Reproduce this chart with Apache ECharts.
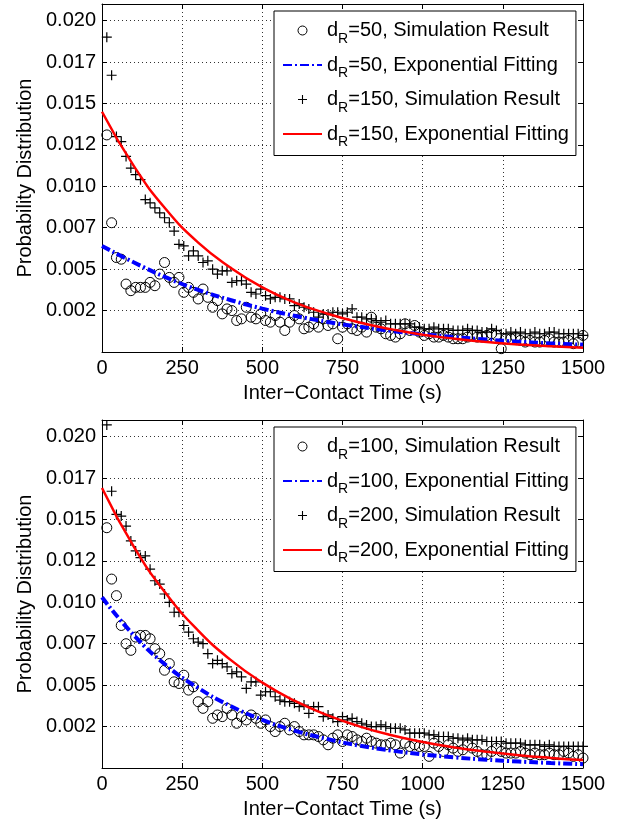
<!DOCTYPE html>
<html><head><meta charset="utf-8">
<script src="https://cdn.jsdelivr.net/npm/echarts/dist/echarts.min.js"></script>
<style>html,body{margin:0;padding:0;background:#fff}#c{width:619px;height:824px}</style>
</head><body><div id="c"></div><script>
// ---------- data ----------
const times = [15,30,45,60,75,90,105,120,135,150,165,180,195,210,225,240,255,270,285,300,315,330,345,360,375,390,405,420,435,450,465,480,495,510,525,540,555,570,585,600,615,630,645,660,675,690,705,720,735,750,765,780,795,810,825,840,855,870,885,900,915,930,945,960,975,990,1005,1020,1035,1050,1065,1080,1095,1110,1125,1140,1155,1170,1185,1200,1215,1230,1245,1260,1275,1290,1305,1320,1335,1350,1365,1380,1395,1410,1425,1440,1455,1470,1485,1500];
const fitTimes = [0,100,200,300,400,500,600,700,800,900,1000,1100,1200,1300,1400,1500];
const xTicks = [0,250,500,750,1000,1250,1500];

const sim50 = [0.0131,0.0078,0.0057,0.0056,0.0041,0.0037,0.0039,0.0039,0.0039,0.0042,
0.0040,0.0047,0.0054,0.0045,0.0042,0.0045,0.0036,0.0039,0.0036,0.0032,
0.0038,0.0033,0.0027,0.0031,0.0023,0.0026,0.0025,0.0019,0.0020,0.0027,
0.0021,0.0020,0.0023,0.0019,0.0018,0.0022,0.0018,0.0013,0.0018,0.0022,
0.0020,0.0014,0.0015,0.0017,0.0015,0.0020,0.0016,0.0017,0.0008,0.0015,
0.0017,0.0014,0.0013,0.0015,0.0012,0.0021,0.0015,0.0014,0.0011,0.0010,
0.0009,0.0011,0.0017,0.0013,0.0016,0.0012,0.0010,0.0011,0.0009,0.0009,
0.0010,0.0009,0.0008,0.0008,0.0008,0.0009,0.0010,0.0009,0.0009,0.0010,
0.0011,0.0010,0.0002,0.0008,0.0008,0.0009,0.0007,0.0006,0.0007,0.0006,
0.0006,0.0007,0.0008,0.0006,0.0006,0.0006,0.0007,0.0005,0.0006,0.0010];
const sim150 = [0.0190,0.0167,0.0130,0.0127,0.0118,0.0111,0.0107,0.0104,0.0092,0.0090,
0.0087,0.0084,0.0081,0.0078,0.0073,0.0065,0.0064,0.0058,0.0061,0.0058,
0.0054,0.0055,0.0050,0.0047,0.0049,0.0049,0.0042,0.0043,0.0043,0.0041,
0.0036,0.0035,0.0038,0.0034,0.0032,0.0033,0.0033,0.0032,0.0032,0.0028,
0.0029,0.0027,0.0026,0.0024,0.0021,0.0023,0.0023,0.0024,0.0024,0.0023,
0.0024,0.0026,0.0021,0.0021,0.0020,0.0020,0.0019,0.0018,0.0019,0.0017,
0.0017,0.0017,0.0017,0.0017,0.0015,0.0015,0.0014,0.0014,0.0015,0.0014,
0.0014,0.0014,0.0013,0.0013,0.0013,0.0014,0.0013,0.0013,0.0012,0.0012,
0.0014,0.0013,0.0011,0.0011,0.0012,0.0011,0.0012,0.0011,0.0011,0.0012,
0.0011,0.0011,0.0012,0.0012,0.0011,0.0011,0.0011,0.0011,0.0011,0.0010];
const sim100 = [0.0145,0.0114,0.0104,0.0086,0.0075,0.0071,0.0079,0.0080,0.0080,0.0078,
0.0072,0.0069,0.0059,0.0063,0.0052,0.0051,0.0056,0.0047,0.0049,0.0040,
0.0036,0.0040,0.0030,0.0032,0.0031,0.0036,0.0032,0.0027,0.0031,0.0029,
0.0032,0.0030,0.0027,0.0029,0.0025,0.0022,0.0025,0.0027,0.0023,0.0025,
0.0022,0.0020,0.0020,0.0020,0.0019,0.0017,0.0014,0.0018,0.0020,0.0016,
0.0020,0.0019,0.0017,0.0016,0.0018,0.0016,0.0015,0.0014,0.0014,0.0015,
0.0014,0.0009,0.0015,0.0013,0.0014,0.0013,0.0013,0.0007,0.0015,0.0013,
0.0010,0.0014,0.0012,0.0010,0.0011,0.0014,0.0012,0.0010,0.0008,0.0008,
0.0010,0.0012,0.0010,0.0009,0.0009,0.0009,0.0010,0.0009,0.0008,0.0009,
0.0008,0.0008,0.0009,0.0008,0.0008,0.0010,0.0009,0.0007,0.0008,0.0006];
const sim200 = [0.0207,0.0167,0.0153,0.0152,0.0146,0.0137,0.0131,0.0127,0.0128,0.0120,
0.0113,0.0111,0.0105,0.0100,0.0094,0.0094,0.0086,0.0082,0.0078,0.0076,
0.0075,0.0069,0.0063,0.0065,0.0063,0.0061,0.0057,0.0058,0.0055,0.0048,
0.0052,0.0052,0.0044,0.0046,0.0046,0.0043,0.0041,0.0040,0.0040,0.0039,
0.0037,0.0038,0.0033,0.0037,0.0037,0.0031,0.0032,0.0030,0.0028,0.0031,
0.0029,0.0030,0.0028,0.0027,0.0026,0.0025,0.0025,0.0026,0.0025,0.0024,
0.0024,0.0024,0.0023,0.0021,0.0021,0.0021,0.0021,0.0020,0.0020,0.0019,
0.0019,0.0019,0.0018,0.0018,0.0017,0.0018,0.0017,0.0017,0.0017,0.0016,
0.0016,0.0016,0.0016,0.0015,0.0015,0.0015,0.0015,0.0014,0.0014,0.0014,
0.0014,0.0013,0.0014,0.0013,0.0013,0.0013,0.0013,0.0013,0.0013,0.0013];

const fit50  = [0.0064,0.0054,0.0045,0.00375,0.00314,0.00262,0.00219,0.00183,0.00153,0.00128,0.00107,0.0009,0.00075,0.00062,0.00052,0.00044];
const fit150 = [0.0145,0.0112,0.0086,0.0066,0.0051,0.0039,0.0030,0.00233,0.00179,0.00138,0.00104,0.0008,0.0006,0.00045,0.00034,0.00026];
const fit100 = [0.0103,0.0080,0.0062,0.00483,0.00375,0.00291,0.00226,0.00176,0.00136,0.00106,0.00082,0.00064,0.0005,0.00039,0.0003,0.00023];
const fit200 = [0.0169,0.01333,0.01051,0.00829,0.00654,0.00515,0.00406,0.00321,0.00253,0.00199,0.00157,0.00124,0.00098,0.00077,0.00061,0.00048];

const legendTop = ['d_R=50, Simulation Result','d_R=50, Exponential Fitting','d_R=150, Simulation Result','d_R=150, Exponential Fitting'];
const legendBottom = ['d_R=100, Simulation Result','d_R=100, Exponential Fitting','d_R=200, Simulation Result','d_R=200, Exponential Fitting'];

// ---------- chart ----------
const FONT = '"Liberation Sans", Arial, Helvetica, sans-serif';
const PLUS = 'path://M-0.12,-1L0.12,-1L0.12,-0.12L1,-0.12L1,0.12L0.12,0.12L0.12,1L-0.12,1L-0.12,0.12L-1,0.12L-1,-0.12L-0.12,-0.12Z';
function pairs(xs, ys){ return xs.map((x,i)=>[x, ys[i]]); }
function yFmt(v){
  if (v < 1e-9) return '';
  const k = v/0.0025;
  if (Math.abs(k-Math.round(k)) > 1e-6) return '';
  return (Math.floor(v*1000+1e-6)/1000).toFixed(3);
}
function xFmt(v){ return xTicks.indexOf(Math.round(v)) >= 0 ? String(Math.round(v)) : ''; }
const tickStyle = {show:true, inside:true, length:5, lineStyle:{color:'#000', width:1}};
const axLine = {show:true, onZero:false, lineStyle:{color:'#000', width:1}};
const grid = {color:'#333', type:[1,3], width:1};

function xMain(g){ return {type:'value', gridIndex:g, min:0, max:1500, interval:250, position:'bottom',
  name:'Inter\u2212Contact Time (s)', nameLocation:'middle', nameGap:31,
  nameTextStyle:{fontSize:20, color:'#000', fontFamily:FONT},
  axisLine:axLine, axisTick:tickStyle,
  axisLabel:{fontSize:20, color:'#000', fontFamily:FONT, margin:6, formatter:xFmt},
  splitLine:{show:true, lineStyle:grid}}; }
function xTop(g){ return {type:'value', gridIndex:g, min:0, max:1500, interval:250, position:'top',
  axisLine:axLine, axisTick:tickStyle, axisLabel:{show:false}, splitLine:{show:false}}; }
function yMain(g){ return {type:'value', gridIndex:g, min:0, max:0.021, interval:0.0025, position:'left',
  name:'Probability Distribution', nameLocation:'middle', nameGap:66,
  nameTextStyle:{fontSize:20, color:'#000', fontFamily:FONT},
  axisLine:axLine, axisTick:tickStyle,
  axisLabel:{fontSize:20, color:'#000', fontFamily:FONT, margin:6, formatter:yFmt},
  splitLine:{show:true, lineStyle:grid}}; }
function yRight(g){ return {type:'value', gridIndex:g, min:0, max:0.021, interval:0.0025, position:'right',
  axisLine:axLine, axisTick:tickStyle, axisLabel:{show:false}, splitLine:{show:false}}; }

function simCircle(name, xi, yi, vals){ return {name, type:'scatter', xAxisIndex:xi, yAxisIndex:yi,
  data:pairs(times, vals), symbol:'circle', symbolSize:10,
  itemStyle:{color:'rgba(0,0,0,0)', borderColor:'#000', borderWidth:1, opacity:1}, z:2}; }
function simPlus(name, xi, yi, vals){ return {name, type:'scatter', xAxisIndex:xi, yAxisIndex:yi,
  data:pairs(times, vals), symbol:PLUS, symbolSize:10, itemStyle:{color:'#000', opacity:1}, z:2}; }
function fitLine(name, xi, yi, vals, color, width, type){ return {name, type:'line', xAxisIndex:xi, yAxisIndex:yi,
  data:pairs(fitTimes, vals), symbol:'none', smooth:0.5,
  lineStyle:{color, width, type, cap:'butt'}, itemStyle:{color}, z:3}; }

function legendFmt(name){ return name.replace(/^d_R(.*)$/, '{a|d}{b|R}{a|$1}'); }
function legend(top, names){ return {orient:'vertical', left:274, top, padding:[4,7,6,8], itemGap:3.5,
  itemWidth:39, itemHeight:9, borderColor:'#000', borderWidth:1, backgroundColor:'#fff',
  selectedMode:false,
  data:names.map((n,i)=> (i%2===1) ? {name:n, itemStyle:{opacity:0}}
        : (i===0 ? {name:n, itemStyle:{color:'rgba(0,0,0,0)', borderColor:'#000', borderWidth:1}} : {name:n})),
  formatter:legendFmt,
  textStyle:{color:'#000', fontFamily:FONT, fontSize:20,
    rich:{a:{fontSize:20, lineHeight:31, color:'#000', fontFamily:FONT},
          b:{fontSize:14, lineHeight:14, padding:[17,0,0,0], color:'#000', fontFamily:FONT}}}}; }

const DASHDOT = [9,3,2,3];
const option = {
  animation:false,
  backgroundColor:'#fff',
  grid:[{left:102, top:4, width:481, height:348}, {left:102, top:420, width:481, height:348}],
  xAxis:[xMain(0), xTop(0), xMain(1), xTop(1)],
  yAxis:[yMain(0), yRight(0), yMain(1), yRight(1)],
  legend:[legend(11, legendTop), legend(427, legendBottom)],
  series:[
    simCircle(legendTop[0], 0, 0, sim50),
    fitLine(legendTop[1], 0, 0, fit50, '#0000ff', 4, DASHDOT),
    simPlus(legendTop[2], 0, 0, sim150),
    fitLine(legendTop[3], 0, 0, fit150, '#ff0000', 2.5, 'solid'),
    simCircle(legendBottom[0], 2, 2, sim100),
    fitLine(legendBottom[1], 2, 2, fit100, '#0000ff', 4, DASHDOT),
    simPlus(legendBottom[2], 2, 2, sim200),
    fitLine(legendBottom[3], 2, 2, fit200, '#ff0000', 2.5, 'solid')
  ]
};
const chart = echarts.init(document.getElementById('c'), null, {renderer:'canvas'});
chart.setOption(option);
</script></body></html>
